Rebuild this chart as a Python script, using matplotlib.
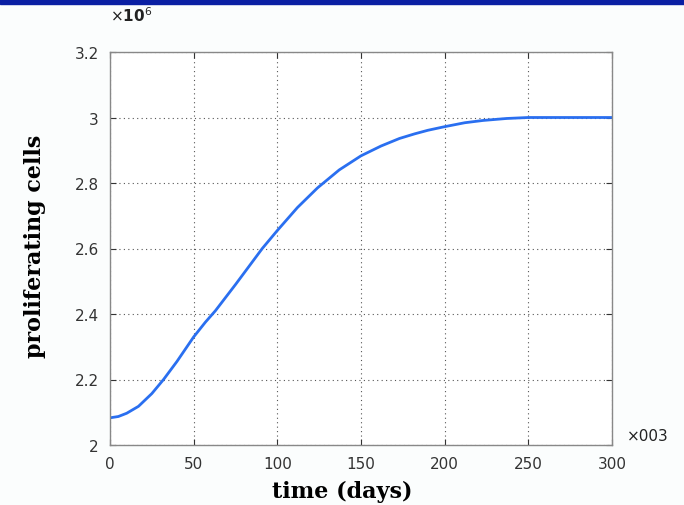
import numpy as np
import matplotlib.pyplot as plt
from matplotlib.patches import Rectangle

# values (cells in units of 1e6)
days = [0, 5, 10, 17, 25, 32, 40, 50, 57, 63, 75, 83, 91, 100, 112, 124, 137, 150, 162, 173, 182, 190, 200, 212, 223, 237, 250, 275, 300]
cells = [2.083, 2.087, 2.097, 2.118, 2.157, 2.2, 2.255, 2.33, 2.375, 2.41, 2.49, 2.545, 2.6, 2.655, 2.725, 2.785, 2.84, 2.883, 2.913, 2.936, 2.95, 2.961, 2.972, 2.984, 2.991, 2.997, 3.0, 3.0, 3.0]
xticks = [0, 50, 100, 150, 200, 250, 300]
yticks = [2, 2.2, 2.4, 2.6, 2.8, 3, 3.2]
ytick_labels = ['2', '2.2', '2.4', '2.6', '2.8', '3', '3.2']

fig = plt.figure(figsize=(6.84, 5.06), dpi=100, facecolor='#fbfdfd')
fig.patches.append(Rectangle((0, 1 - 5 / 506), 1, 5 / 506, transform=fig.transFigure,
                             color='#0a1fa3', zorder=0))

ax = fig.add_axes([110 / 684, 1 - 446 / 506, 502 / 684, 393 / 506])
ax.set_facecolor('white')
ax.plot(days, cells, color='#2a6ff0', lw=2)

ax.set_xlim(0, 300)
ax.set_ylim(2, 3.2)
ax.set_xticks(xticks)
ax.set_yticks(yticks)
ax.set_yticklabels(ytick_labels)
ax.grid(True, color='#555555', linestyle=(0, (1, 3)), lw=0.8)
ax.tick_params(direction='in', length=4, labelsize=11, colors='#333333', pad=8,
               top=True, right=True)
for s in ax.spines.values():
    s.set_color('#888888')
    s.set_linewidth(1)

ax.set_xlabel('time (days)', family='DejaVu Serif', fontweight='bold', fontsize=16, va='center')
ax.set_ylabel('proliferating cells', family='DejaVu Serif', fontweight='bold', fontsize=16, va='center')
ax.xaxis.set_label_coords((342 - 110) / 502, -(492 - 446) / 393)
ax.yaxis.set_label_coords(-(110 - 35) / 502, (446 - 246) / 393)

fig.text(110 / 684, 1 - 16 / 506, r'$\times\mathbf{10}^6$', fontsize=11, color='#222222', va='center')
fig.text(627 / 684, 1 - 437 / 506, '×003', fontsize=11, color='#222222', va='center')

fig.savefig('out.png', dpi=100, facecolor=fig.get_facecolor())
